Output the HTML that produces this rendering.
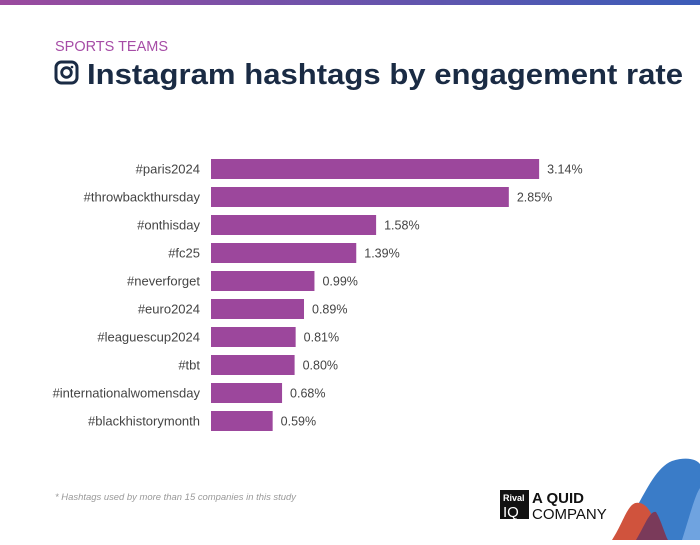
<!DOCTYPE html>
<html><head><meta charset="utf-8"><style>
body{margin:0;width:700px;height:540px;overflow:hidden;background:#fff;font-family:"Liberation Sans",sans-serif}
</style></head><body>
<svg width="700" height="540" viewBox="0 0 700 540">
<defs>
<linearGradient id="tb" x1="0" x2="1"><stop offset="0" stop-color="#9b4a9e"/><stop offset="1" stop-color="#3b5cb8"/></linearGradient>
</defs>
<rect x="0" y="0" width="700" height="5" fill="url(#tb)"/>
<text x="55" y="51" font-size="15" fill="#a64ca6" textLength="113" lengthAdjust="spacingAndGlyphs">SPORTS TEAMS</text>
<g>
<rect x="56" y="62" width="21" height="21" rx="5.5" fill="none" stroke="#1a2b44" stroke-width="3"/>
<circle cx="66.5" cy="72.5" r="4.8" fill="none" stroke="#1a2b44" stroke-width="2.8"/>
<circle cx="72" cy="67" r="1.3" fill="#1a2b44"/>
</g>
<text x="87" y="84" font-size="29" font-weight="bold" fill="#1a2b44" textLength="596" lengthAdjust="spacingAndGlyphs">Instagram hashtags by engagement rate</text>
<g id="bars"></g>
<text x="55" y="500" font-size="9.5" font-style="italic" fill="#999" textLength="241" lengthAdjust="spacingAndGlyphs">* Hashtags used by more than 15 companies in this study</text>
<g>
<rect x="500" y="490" width="29" height="29" fill="#111"/>
<text x="503" y="501" font-size="9" font-weight="bold" fill="#fff">Rival</text>
<text x="503" y="517" font-size="15" fill="#fff">IQ</text>
<text x="532" y="503" font-size="15" fill="#111" font-weight="bold">A QUID</text>
<text x="532" y="519" font-size="15" fill="#111">COMPANY</text>
</g>
<g>
<path d="M615 540 C640 510 650 470 672 461 C688 456 697 460 700 464 L700 540 Z" fill="#3a7cc8"/>
<path d="M682 540 C690 515 695 495 700 488 L700 540 Z" fill="#6fa3e0"/>
<path d="M612 540 C625 520 628 500 640 503 C652 506 655 525 660 540 Z" fill="#d0533d"/>
<path d="M636 540 C645 525 650 510 656 512 C661 520 665 535 668 540 Z" fill="#7a3a5a"/>
</g>
</svg>
<script>
const categories=["#paris2024","#throwbackthursday","#onthisday","#fc25","#neverforget","#euro2024","#leaguescup2024","#tbt","#internationalwomensday","#blackhistorymonth"];
const values=[3.14,2.85,1.58,1.39,0.99,0.89,0.81,0.80,0.68,0.59];
const labels=["3.14%","2.85%","1.58%","1.39%","0.99%","0.89%","0.81%","0.80%","0.68%","0.59%"];
const NS="http://www.w3.org/2000/svg";
const x0=211,pxPer=104.5,y0=169,step=28,bh=20;
const xs=v=>x0+v*pxPer, ys=i=>y0+i*step;
const g=document.getElementById('bars');
categories.forEach((c,i)=>{
 const r=document.createElementNS(NS,'rect');
 r.setAttribute('x',x0);r.setAttribute('y',ys(i)-bh/2);r.setAttribute('width',xs(values[i])-x0);r.setAttribute('height',bh);r.setAttribute('fill','#9c479c');
 
 
 g.appendChild(r);
 const t=document.createElementNS(NS,'text');
 t.setAttribute('x',x0-11);t.setAttribute('y',ys(i)+4.5);t.setAttribute('text-anchor','end');t.setAttribute('font-size','13');t.setAttribute('fill','#444');
 t.textContent=c;
 
 
 g.appendChild(t);
 const v=document.createElementNS(NS,'text');
 v.setAttribute('x',xs(values[i])+8);v.setAttribute('y',ys(i)+4.5);v.setAttribute('font-size','12.5');v.setAttribute('fill','#444');
 v.textContent=labels[i];
 
 
 g.appendChild(v);
});
</script>
</body></html>
